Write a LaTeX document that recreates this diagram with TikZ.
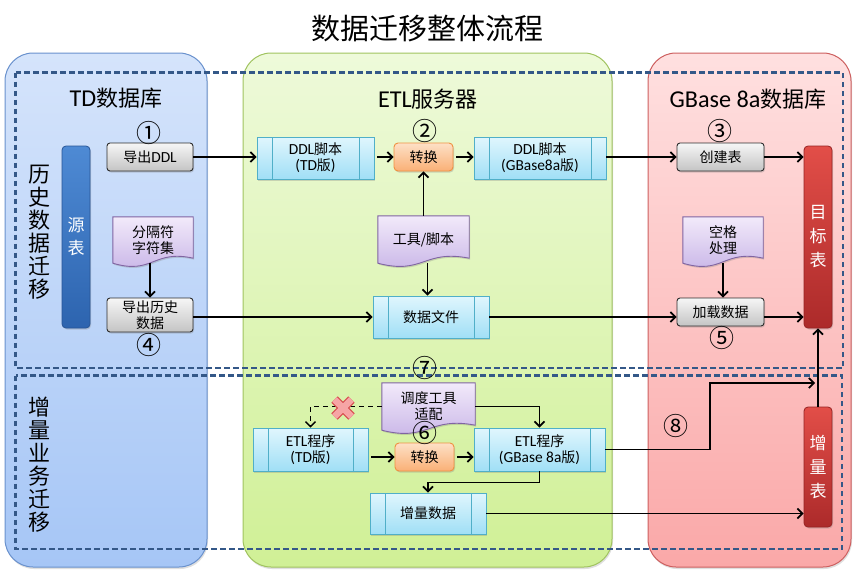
\documentclass[tikz,border=0pt]{standalone}
\usepackage{fontspec}
\setmainfont{Noto Sans CJK SC}
\newfontfamily\lat[Scale=1.1]{Carlito}
\usetikzlibrary{arrows.meta,calc,shadows}
\pgfdeclarelayer{bg}
\pgfdeclarelayer{mid}
\pgfsetlayers{bg,mid,main}
\definecolor{bluet}{RGB}{213,228,251}
\definecolor{blued}{RGB}{166,198,246}
\definecolor{blueb}{RGB}{105,145,205}
\definecolor{greent}{RGB}{238,250,218}
\definecolor{greend}{RGB}{208,240,150}
\definecolor{greenb}{RGB}{160,195,95}
\definecolor{redt}{RGB}{255,224,224}
\definecolor{redd}{RGB}{250,168,168}
\definecolor{redb}{RGB}{205,95,95}
\definecolor{dashc}{RGB}{52,88,136}
\definecolor{grayt}{RGB}{246,246,246}
\definecolor{grayd}{RGB}{196,196,196}
\definecolor{grayb}{RGB}{45,45,45}
\definecolor{proct}{RGB}{224,246,253}
\definecolor{procd}{RGB}{160,223,246}
\definecolor{procb}{RGB}{80,175,200}
\definecolor{oranget}{RGB}{253,224,198}
\definecolor{oranged}{RGB}{250,176,118}
\definecolor{orangeb}{RGB}{240,145,65}
\definecolor{purpt}{RGB}{242,234,250}
\definecolor{purpd}{RGB}{198,178,230}
\definecolor{purpb}{RGB}{128,100,162}
\definecolor{srct}{RGB}{78,138,212}
\definecolor{srcd}{RGB}{45,100,175}
\definecolor{srcb}{RGB}{40,85,150}
\definecolor{tgtt}{RGB}{226,78,72}
\definecolor{tgtd}{RGB}{172,42,42}
\definecolor{tgtb}{RGB}{150,35,35}
\definecolor{xfill}{RGB}{246,165,165}
\definecolor{xbord}{RGB}{215,80,80}
\newcommand\docwave[1]{%
  \begin{pgfonlayer}{mid}
  \path[docshape] (#1.south west)
    .. controls ($(#1.south west)!0.5!(#1.south east)+(0,12)$) and ($(#1.south west)!0.5!(#1.south east)+(0,-14)$)
    .. ($(#1.south east)+(0,-5)$) -- (#1.north east) -- (#1.north west) -- cycle;
  \end{pgfonlayer}}
\begin{document}
\begin{tikzpicture}[x=1pt,y=-1pt,
  arr/.style={-{Straight Barb[length=5pt,width=10pt]}, line width=1.7pt},
  panel/.style={rounded corners=28pt, line width=1pt,
    drop shadow={opacity=0.25, shadow xshift=1pt, shadow yshift=-2pt}},
  dashbox/.style={draw=dashc, line width=2.4pt, dash pattern=on 5.5pt off 3.5pt},
  shd/.style={drop shadow={opacity=0.3, shadow xshift=1pt, shadow yshift=-1.5pt}},
  txt/.style={font=\fontsize{14}{16}\selectfont, align=center, inner sep=0pt},
  graybox/.style={txt, shd, rounded corners=3pt, draw=grayb, line width=0.9pt,
    top color=grayt, bottom color=grayd, minimum width=86pt, minimum height=28pt},
  convbox/.style={txt, shd, rounded corners=4pt, draw=orangeb, line width=0.9pt,
    top color=oranget, bottom color=oranged, minimum width=59pt, minimum height=28pt},
  procbox/.style={txt, shd, draw=procb, line width=0.9pt, top color=proct, bottom color=procd,
    minimum height=42pt,
    path picture={\draw[procb, line width=0.8pt]
      ([xshift=15pt]path picture bounding box.north west) -- ([xshift=15pt]path picture bounding box.south west)
      ([xshift=-15pt]path picture bounding box.north east) -- ([xshift=-15pt]path picture bounding box.south east);}},
  docnode/.style={txt, minimum width=80pt, minimum height=46pt},
  docshape/.style={draw=purpb, line width=0.9pt, top color=purpt, bottom color=purpd, shd},
  srcbar/.style={rounded corners=4pt, draw=srcb, line width=0.8pt, top color=srct, bottom color=srcd,
    minimum width=28pt, inner sep=0pt, align=center, text=white, shd,
    font=\fontsize{17}{23}\selectfont},
  tgtbar/.style={srcbar, draw=tgtb, top color=tgtt, bottom color=tgtd, font=\fontsize{17}{24}\selectfont},
  head/.style={font=\fontsize{22}{24}\selectfont, inner sep=0pt},
  side/.style={font=\fontsize{22}{23}\selectfont, align=center, inner sep=0pt},
  circnum/.style={font=\fontsize{25}{26}\selectfont, inner sep=0pt}
]
\useasboundingbox (0,0) rectangle (855,573);
% panels
\begin{pgfonlayer}{bg}
\path[panel, draw=blueb, top color=bluet, bottom color=blued] (5,53) rectangle (207,567);
\path[panel, draw=greenb, top color=greent, bottom color=greend] (243,53) rectangle (612,567);
\path[panel, draw=redb, top color=redt, bottom color=redd] (648,53) rectangle (851,567);
\draw[dashbox] (15.5,72.5) rectangle (843,368);
\draw[dashbox] (15.5,375.5) rectangle (842,549);
\end{pgfonlayer}
% title and headers
\node[font=\fontsize{29}{32}\selectfont, inner sep=0pt] (title) at (427,29) {数据迁移整体流程};
\node[head] (hTD) at (116,98) {{\lat TD}数据库};
\node[head] (hETL) at (428,99) {{\lat ETL}服务器};
\node[head] (hGB) at (748,99) {{\lat GBase 8a}数据库};
\node[side] (hist) at (39,232) {历\\史\\数\\据\\迁\\移};
\node[side] (incr) at (39,465) {增\\量\\业\\务\\迁\\移};
% left column
\node[srcbar, minimum height=182pt] (src) at (76,237) {源\\表};
\node[graybox] (ddlexp) at (150,157) {导出{\lat DDL}};
\node[docnode] (sep) at (153,240) {分隔符\\字符集};
\docwave{sep}
\node[graybox, minimum height=34pt] (histexp) at (150,315) {导出历史\\数据};
\node[circnum] (c1) at (149,133) {①};
\node[circnum] (c4) at (149,345) {④};
% ETL column, top
\node[procbox, minimum width=117pt] (ddltd) at (315.5,158) {{\lat DDL}脚本\\{\lat (TD}版{\lat )}};
\node[convbox] (conv1) at (423.5,157) {转换};
\node[procbox, minimum width=132pt] (ddlgb) at (540,158) {{\lat DDL}脚本\\{\lat (GBase8a}版{\lat )}};
\node[circnum] (c2) at (425,131) {②};
\node[docnode, minimum width=91pt, minimum height=47pt] (tool) at (423.5,239.5) {工具/脚本};
\docwave{tool}
\node[procbox, minimum width=116pt] (datafile) at (431,317) {数据文件};
% GBase column
\node[graybox, minimum width=87pt] (create) at (720.5,157) {创建表};
\node[circnum] (c3) at (720,131) {③};
\node[tgtbar, minimum height=182pt] (target) at (818,237) {目\\标\\表};
\node[docnode] (space) at (723,240) {空格\\处理};
\docwave{space}
\node[graybox, minimum width=87pt, minimum height=28pt] (load) at (720.5,312) {加载数据};
\node[circnum] (c5) at (722,338) {⑤};
% incremental part
\node[circnum] (c7) at (425,368) {⑦};
\node[docnode, minimum width=93pt, minimum height=47pt] (sched) at (428.5,406.5) {调度工具\\适配};
\docwave{sched}
\node[procbox, minimum width=115pt, minimum height=43pt] (etltd) at (310.5,449.5) {{\lat ETL}程序\\{\lat (TD}版{\lat )}};
\node[convbox] (conv2) at (424.5,457) {转换};
\node[circnum] (c6) at (425,433) {⑥};
\node[procbox, minimum width=131pt, minimum height=43pt] (etlgb) at (539.5,449.5) {{\lat ETL}程序\\{\lat (GBase 8a}版{\lat )}};
\node[procbox, minimum width=116pt, minimum height=41pt] (incdata) at (428,513.5) {增量数据};
\node[tgtbar, minimum height=120pt] (inctable) at (818,467) {增\\量\\表};
\node[circnum] (c8) at (676,426) {⑧};
% connectors, top
\draw[arr] (ddlexp.east) -- (ddlexp.east -| ddltd.west);
\draw[arr, shorten <=3pt] (conv1.west -| ddltd.east) -- (conv1.west);
\draw[arr, shorten <=3pt] (conv1.east) -- (conv1.east -| ddlgb.west);
\draw[arr] (create.west -| ddlgb.east) -- (create.west);
\draw[arr] (create.east) -- (create.east -| target.west);
\draw[arr] (tool.north -| conv1.south) -- (conv1.south);
\draw[arr] ([xshift=4pt]tool.south) -- ([xshift=4pt]tool.south |- datafile.north);
\draw[arr] (sep.south -| histexp.north) -- (histexp.north);
\draw[arr] (space.south) -- (space.south |- load.north);
\draw[arr] (histexp.east |- datafile.west) -- (datafile.west);
\draw[arr] (datafile.east) -- (datafile.east -| load.west);
\draw[arr] (load.east |- datafile.east) -- (target.west |- datafile.east);
% connectors, bottom
\coordinate (xm) at (343,408);
\draw[arr, line width=1.4pt, dash pattern=on 5pt off 4pt] (sched.west) -| (etltd.north);
\draw[line width=9pt, xbord] ($(xm)+(-8.5,-8.5)$) -- ($(xm)+(8.5,8.5)$) ($(xm)+(-8.5,8.5)$) -- ($(xm)+(8.5,-8.5)$);
\draw[line width=6.5pt, xfill] ($(xm)+(-8.5,-8.5)$) -- ($(xm)+(8.5,8.5)$) ($(xm)+(-8.5,8.5)$) -- ($(xm)+(8.5,-8.5)$);
\draw[arr] (sched.east) -| (etlgb.north);
\draw[arr, shorten <=3pt] (conv2.west -| etltd.east) -- (conv2.west);
\draw[arr, shorten <=3pt] (conv2.east) -- (conv2.east -| etlgb.west);
\draw[arr] (etlgb.south) -- ++(0,11) -| (incdata.north);
\draw[arr] (incdata.east) -- (incdata.east -| inctable.west);
\coordinate (bend8) at (710,383);
\coordinate (j8) at (815,383);
\draw[arr] (etlgb.east) -| (bend8) -- (j8);
\draw[arr] (inctable.north) -- (target.south);
\end{tikzpicture}
\end{document}
